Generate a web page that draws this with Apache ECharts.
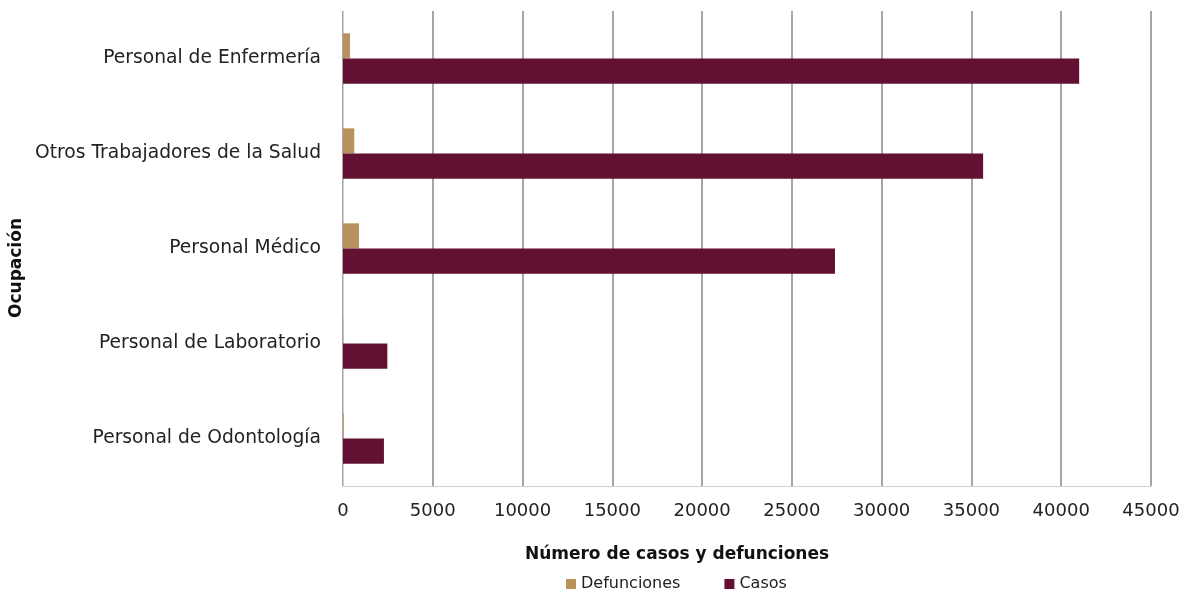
<!DOCTYPE html>
<html>
<head>
<meta charset="utf-8">
<script src="https://cdn.jsdelivr.net/npm/echarts@6/dist/echarts.min.js"></script>
<style>html,body{margin:0;padding:0;background:#fff}#c{width:1188px;height:591px}</style>
</head>
<body>
<div id="c"></div>
<script>
var categories = ["Personal de Odontología", "Personal de Laboratorio", "Personal Médico", "Otros Trabajadores de la Salud", "Personal de Enfermería"];
var defunciones = [40, 15, 890, 630, 390];
var casos = [2280, 2470, 27400, 35650, 41000];
var xTicks = [0, 5000, 10000, 15000, 20000, 25000, 30000, 35000, 40000, 45000];

var chart = echarts.init(document.getElementById('c'), null, {renderer: 'canvas'});
var font = 'DejaVu Sans';
chart.setOption({
  animation: false,
  backgroundColor: '#ffffff',
  textStyle: {fontFamily: font},
  grid: {left: 343, right: 37, top: 11, bottom: 105, containLabel: false},
  legend: {
    data: ['Defunciones', 'Casos'],
    top: 571, left: 561,
    itemWidth: 10, itemHeight: 10, itemGap: 44, itemTextGap: 4,
    icon: 'rect',
    textStyle: {fontFamily: font, fontSize: 16, color: '#222'}
  },
  graphic: [
    {type: 'text', x: 677, y: 546, style: {text: 'Número de casos y defunciones', font: 'bold 17px "' + font + '"', fill: '#111', align: 'center', verticalAlign: 'top'}},
    {type: 'text', x: 8, y: 268, rotation: Math.PI / 2, style: {text: 'Ocupación', font: 'bold 17px "' + font + '"', fill: '#111', align: 'center', verticalAlign: 'top'}}
  ],
  xAxis: {
    type: 'value', min: xTicks[0], max: xTicks[xTicks.length - 1], interval: 5000,
    axisLine: {show: true, lineStyle: {color: '#d0d0d0'}},
    axisTick: {show: false},
    axisLabel: {fontSize: 18, color: '#222', margin: 16, fontFamily: font, formatter: function (v) { return String(v); }},
    splitLine: {show: true, lineStyle: {color: '#888', width: 1.5}}
  },
  yAxis: {
    type: 'category', data: categories,
    axisLine: {show: true, lineStyle: {color: '#d0d0d0'}},
    axisTick: {show: false},
    axisLabel: {fontSize: 18.7, color: '#222', margin: 22, fontFamily: font}
  },
  series: [
    {name: 'Defunciones', type: 'bar', data: defunciones, itemStyle: {color: '#b9935f'}, barGap: '0%', barCategoryGap: '47%'},
    {name: 'Casos', type: 'bar', data: casos, itemStyle: {color: '#621132'}, barGap: '0%', barCategoryGap: '47%'}
  ]
});
</script>
</body>
</html>
